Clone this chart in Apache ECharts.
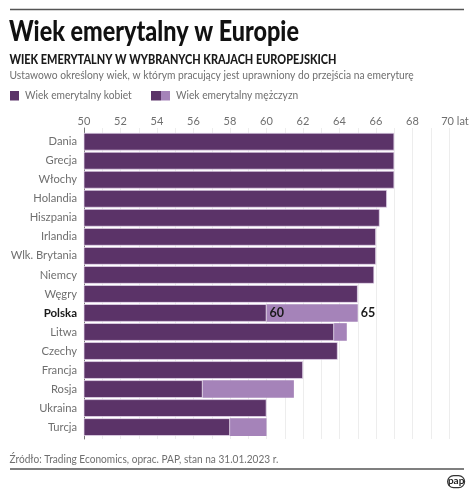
<!DOCTYPE html>
<html><head><meta charset="utf-8">
<style>html,body{margin:0;padding:0;background:#fff}#c{width:474px;height:492px}</style>
<script src="https://cdn.jsdelivr.net/npm/echarts@6/dist/echarts.min.js"></script>
</head><body><div id="c"></div>
<script>
var categories=['Dania','Grecja','Włochy','Holandia','Hiszpania','Irlandia','Wlk. Brytania','Niemcy','Węgry','Polska','Litwa','Czechy','Francja','Rosja','Ukraina','Turcja'];
var womenAge=[67,67,67,66.6,66.2,66,66,65.9,65,60,63.7,63.9,62,56.5,60,58];
var menAge=[67,67,67,66.6,66.2,66,66,65.9,65,65,64.4,63.9,62,61.5,60,60];
var axisMin=50, axisMax=70;
var title='Wiek emerytalny w Europie';
var subtitle='WIEK EMERYTALNY W WYBRANYCH KRAJACH EUROPEJSKICH';
var description='Ustawowo określony wiek, w którym pracujący jest uprawniony do przejścia na emeryturę';
var legendWomen='Wiek emerytalny kobiet';
var legendMen='Wiek emerytalny mężczyzn';
var source='Źródło: Trading Economics, oprac. PAP, stan na 31.01.2023 r.';
var FONT='Lato,"Open Sans",sans-serif';
var DARK='#5b3368', LIGHT='#a583b9', EDGE='#eadcf0', GREY='#6f6f6f';
var extra=menAge.map(function(m,i){return +(m-womenAge[i]).toFixed(1);});
function txt(x,y,s,size,w,fill,sx){return {type:'text',x:x,y:y,scaleX:sx,style:{x:0,y:0,text:s,font:w+' '+size+'px '+FONT,fill:fill,textVerticalAlign:'middle'},silent:true};}
function rect(x,y,w,h,f){return {type:'rect',shape:{x:x,y:y,width:w,height:h},style:{fill:f},silent:true};}
function line(y){return {type:'line',shape:{x1:10,y1:y,x2:464,y2:y},style:{stroke:'#555',lineWidth:1.3},silent:true};}
var chart=echarts.init(document.getElementById('c'),null,{renderer:'canvas'});
chart.setOption({
 animation:false,
 backgroundColor:'#fff',
 textStyle:{fontFamily:FONT},
 grid:[
  {left:84,width:365,top:132.2,height:304.4,containLabel:false},
  {left:84,width:365,top:128,height:311,containLabel:false}
 ],
 xAxis:[
  {type:'value',gridIndex:0,min:axisMin,max:axisMax,interval:2,position:'top',
   axisLine:{show:false},axisTick:{show:false},splitLine:{show:false},
   axisLabel:{margin:5,color:GREY,fontSize:11,fontFamily:FONT,
     formatter:function(v){return v===70?'{u|70 lat}':String(v);},
     rich:{u:{color:GREY,fontSize:11,fontFamily:FONT,padding:[0,0,0,12]}}}},
  {type:'value',gridIndex:1,min:axisMin,max:axisMax,interval:1,position:'top',
   axisLine:{show:false},axisTick:{show:false},axisLabel:{show:false},
   splitLine:{show:true,lineStyle:{color:'#ededed',width:1}}}
 ],
 yAxis:[
  {type:'category',gridIndex:0,data:categories,inverse:true,
   axisLine:{show:false},axisTick:{show:false},
   axisLabel:{margin:7,fontSize:11.2,fontFamily:FONT,color:GREY,
     formatter:function(v){return v==='Polska'?'{b|Polska}':v;},
     rich:{b:{fontWeight:700,color:'#1a1a1a',fontSize:11.5,fontFamily:FONT}}}},
  {type:'category',gridIndex:1,data:[''],
   axisLine:{show:true,lineStyle:{color:'#777',width:1}},axisTick:{show:false},axisLabel:{show:false}}
 ],
 series:[
  {type:'bar',name:'bg',xAxisIndex:1,yAxisIndex:1,data:[],silent:true},
  {type:'bar',name:legendWomen,stack:'a',xAxisIndex:0,yAxisIndex:0,barWidth:17.6,z:3,
   data:womenAge,
   itemStyle:{color:DARK,borderColor:EDGE,borderWidth:0.7},
   label:{show:true,position:'right',distance:-1,offset:[4,0],fontSize:12.5,fontWeight:700,color:'#1a1a1a',fontFamily:FONT,
     formatter:function(p){return p.name==='Polska'?String(womenAge[p.dataIndex]):'';}}},
  {type:'bar',name:legendMen,stack:'a',xAxisIndex:0,yAxisIndex:0,barWidth:17.6,z:2,
   data:extra,
   itemStyle:{color:LIGHT,borderWidth:0},
   label:{show:true,position:'right',distance:3,fontSize:12.5,fontWeight:700,color:'#1a1a1a',fontFamily:FONT,
     formatter:function(p){return p.name==='Polska'?String(menAge[p.dataIndex]):'';}}}
 ],
 graphic:[
  line(9.5),line(469),
  txt(9,32,title,27.5,900,'#111',0.85),
  txt(9.5,59.5,subtitle,13,900,'#1a1a1a',0.84),
  txt(9.5,75,description,12.3,400,GREY,0.835),
  rect(10,91,9,9.5,DARK),
  txt(25,95,legendWomen,12,400,GREY,0.85),
  rect(151,91,10,9.5,DARK),rect(161,91,9,9.5,LIGHT),
  txt(176,95,legendMen,12,400,GREY,0.85),
  txt(9.5,459,source,12.2,400,GREY,0.83),
  {type:'group',left:447,top:475,children:[
    {type:'rect',shape:{x:0,y:0,width:17,height:12,r:6},style:{fill:'#fff',stroke:'#333',lineWidth:1.2}},
    {type:'text',style:{x:8.5,y:0,text:'pap',font:'700 10px '+FONT,fill:'#222',textAlign:'center'}}
  ]}
 ]
});
</script></body></html>
